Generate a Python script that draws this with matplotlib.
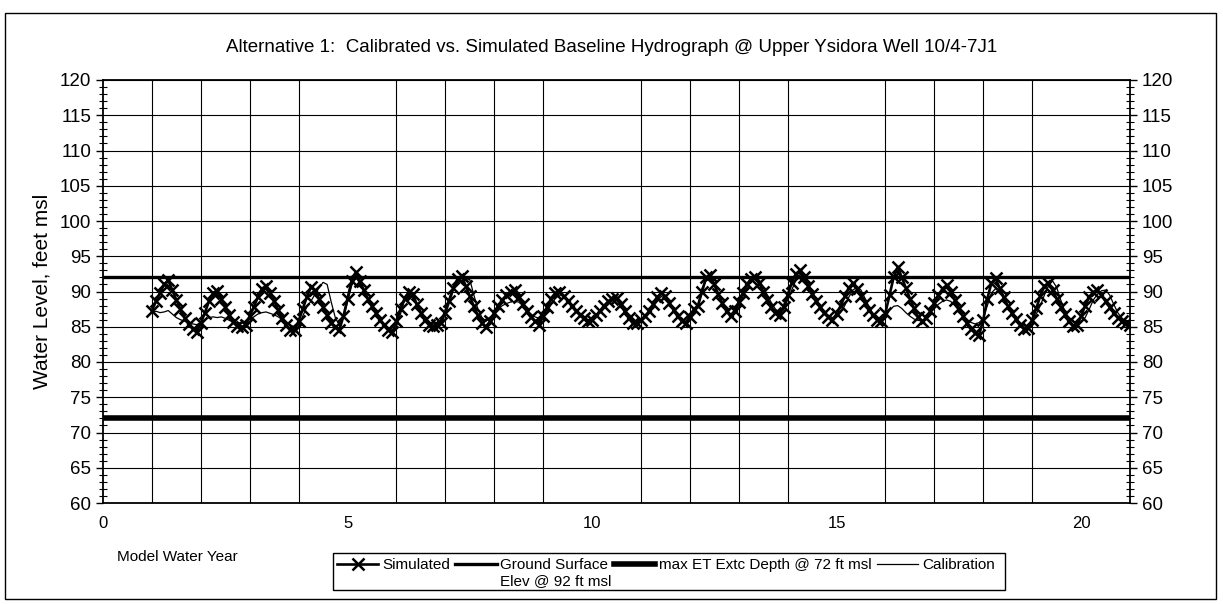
import matplotlib
matplotlib.use('Agg')
import matplotlib.pyplot as plt
import numpy as np
from matplotlib.patches import Rectangle

plt.rcParams['font.family'] = ['Liberation Sans', 'DejaVu Sans']

# ---- data (monthly, model years 1..21) ----
start_year = 1.0
steps_per_year = 12

simulated = [
    87.3, 88.6, 89.8, 91.0, 91.6, 90.2, 88.8, 87.5, 86.3, 85.4, 84.7, 84.2,   # yr 1
    85.5, 87.0, 88.6, 89.8, 90.1, 89.0, 87.8, 86.7, 85.7, 85.1, 84.9, 85.3,   # yr 2
    86.5, 87.8, 89.2, 90.4, 90.8, 89.8, 88.6, 87.4, 86.2, 85.2, 84.6, 84.5,   # yr 3
    85.8, 87.5, 89.2, 90.6, 90.2, 89.0, 87.8, 86.6, 85.6, 84.9, 84.6, 86.5,   # yr 4
    89.0, 91.5, 92.7, 91.5, 90.2, 89.0, 87.9, 86.9, 86.0, 85.2, 84.6, 84.2,   # yr 5
    85.8, 87.5, 89.0, 89.9, 89.6, 88.2, 87.0, 86.0, 85.3, 85.1, 85.2, 85.6,   # yr 6
    87.0, 88.7, 90.5, 91.8, 92.2, 90.8, 89.3, 87.9, 86.6, 85.5, 84.9, 85.8,   # yr 7
    87.0, 88.0, 88.8, 89.5, 90.0, 90.2, 89.2, 88.2, 87.2, 86.4, 85.8, 85.3,   # yr 8
    86.5, 87.8, 89.0, 89.8, 90.0, 89.4, 88.7, 88.0, 87.3, 86.7, 86.2, 85.8,   # yr 9
    86.0, 86.6, 87.3, 88.0, 88.6, 89.0, 89.1, 88.2, 87.2, 86.3, 85.5, 85.6,   # yr 10
    86.0, 86.5, 87.2, 88.2, 89.2, 89.8, 89.3, 88.4, 87.4, 86.5, 85.8, 85.6,   # yr 11
    86.4, 87.5, 88.0, 90.0, 92.0, 92.3, 91.0, 89.6, 88.3, 87.2, 86.5, 87.3,   # yr 12
    88.5, 89.8, 91.0, 91.8, 92.1, 91.2, 90.0, 88.8, 87.8, 87.0, 86.7, 87.8,   # yr 13
    89.5, 91.2, 92.5, 93.0, 92.0, 90.8, 89.7, 88.7, 87.8, 87.0, 86.4, 86.0,   # yr 14
    86.8, 88.0, 89.3, 90.5, 91.2, 90.4, 89.4, 88.4, 87.4, 86.6, 86.0, 85.8,   # yr 15
    87.0, 89.5, 92.0, 93.5, 92.0, 90.5, 89.0, 87.6, 86.4, 85.8, 86.2, 87.2,   # yr 16
    88.4, 89.5, 90.4, 90.9, 90.0, 88.8, 87.6, 86.5, 85.5, 84.7, 84.1, 83.9,   # yr 17
    86.0, 89.0, 91.2, 91.9, 90.5, 89.2, 88.0, 87.0, 86.1, 85.3, 84.7, 84.8,   # yr 18
    86.0, 87.6, 89.4, 90.8, 91.2, 90.2, 89.0, 87.8, 86.8, 85.8, 85.1, 85.3,   # yr 19
    86.5, 88.0, 89.2, 89.9, 90.2, 89.5, 88.6, 87.8, 87.0, 86.3, 85.8, 85.5,   # yr 20
    85.3,
]

calibration = [
    87.0, 87.2, 87.0, 87.1, 87.3, 86.8, 86.3, 86.0, 85.8, 85.6, 85.4, 85.3,   # yr 1
    85.5, 86.0, 86.3, 86.4, 86.3, 86.4, 86.2, 85.9, 85.7, 85.6, 85.5, 85.6,   # yr 2
    86.0, 86.4, 86.8, 87.0, 87.1, 86.9, 86.7, 86.4, 86.0, 85.6, 85.2, 85.0,   # yr 3
    85.2, 86.5, 87.8, 88.6, 89.6, 90.5, 91.3, 91.0, 88.5, 86.3, 85.2, 86.2,   # yr 4
    88.5, 90.8, 92.0, 91.2, 90.0, 88.8, 87.8, 86.9, 86.0, 85.3, 84.8, 84.5,   # yr 5
    85.0, 86.8, 88.8, 89.4, 89.2, 88.0, 87.0, 86.2, 85.6, 85.4, 85.5, 86.0,   # yr 6
    87.5, 89.2, 90.6, 91.2, 91.5, 91.6, 91.7, 89.5, 87.5, 86.3, 85.8, 86.2,   # yr 7
    87.0, 87.6, 88.0, 88.3, 88.5, 88.6, 88.5, 88.0, 87.4, 86.8, 86.4, 86.2,   # yr 8
    86.4, 87.2, 88.2, 89.0, 89.5, 89.4, 88.9, 88.2, 87.5, 86.9, 86.4, 86.0,   # yr 9
    86.0, 86.5, 87.1, 87.8, 88.3, 88.7, 88.8, 88.0, 87.1, 86.3, 85.8, 85.7,   # yr 10
    85.9, 86.3, 87.0, 87.8, 88.7, 89.3, 89.0, 88.2, 87.3, 86.5, 85.9, 85.7,   # yr 11
    86.2, 87.0, 88.2, 90.5, 91.5, 91.8, 90.8, 89.5, 88.3, 87.3, 86.8, 87.2,   # yr 12
    88.0, 89.2, 90.5, 91.4, 91.9, 91.6, 90.7, 89.5, 88.4, 87.5, 87.0, 87.4,   # yr 13
    88.8, 90.2, 91.6, 92.4, 92.0, 91.2, 90.0, 88.9, 87.9, 87.1, 86.6, 86.3,   # yr 14
    86.4, 87.0, 88.0, 89.2, 90.2, 90.6, 90.2, 89.0, 87.8, 86.8, 86.2, 86.0,   # yr 15
    86.4, 87.3, 87.9, 88.0, 87.6, 87.0, 86.5, 86.1, 85.9, 85.8, 86.2, 87.0,   # yr 16
    87.6, 88.2, 88.6, 88.8, 88.6, 88.0, 87.3, 86.6, 86.0, 85.6, 85.4, 85.6,   # yr 17
    86.2, 88.0, 89.8, 90.4, 90.0, 89.0, 88.0, 87.0, 86.2, 85.5, 85.1, 85.2,   # yr 18
    85.8, 86.8, 88.0, 89.5, 90.8, 91.5, 90.6, 88.8, 87.2, 86.2, 85.7, 85.6,   # yr 19
    85.8, 86.3, 87.5, 88.8, 89.6, 90.1, 90.2, 89.5, 88.2, 87.0, 86.2, 85.8,   # yr 20
    85.6,
]

ground_surface = 92.0
max_et_depth = 72.0

title = 'Alternative 1:  Calibrated vs. Simulated Baseline Hydrograph @ Upper Ysidora Well 10/4-7J1'
labels = ['Simulated', 'Ground Surface', 'max ET Extc Depth @ 72 ft msl', 'Calibration']
gs_line2 = 'Elev @ 92 ft msl'

sim_x = start_year + np.arange(len(simulated)) / steps_per_year
cal_x = start_year + np.arange(len(calibration)) / steps_per_year

# ---- figure ----
W, H = 1223, 604
fig = plt.figure(figsize=(W / 100, H / 100), dpi=100, facecolor='w')
ax = fig.add_axes([103 / W, 1 - 503 / H, 1027 / W, 423 / H])

gs, = ax.plot([0, 21], [ground_surface] * 2, color='k', lw=2.4, zorder=3)
et, = ax.plot([0, 21], [max_et_depth] * 2, color='k', lw=4.0, zorder=3)
cal, = ax.plot(cal_x, calibration, color='k', lw=0.9, zorder=4)
sim, = ax.plot(sim_x, simulated, color='k', lw=1.9, marker='x', ms=9, mew=1.8,
               zorder=5)

ax.set_xlim(0, 21)
ax.set_ylim(60, 120)
ax.set_xticks([0, 5, 10, 15, 20])
ax.set_xticks(np.arange(1, 21), minor=True)
ax.set_yticks(np.arange(60, 121, 5))
ax.set_yticks(np.arange(60, 121, 1), minor=True)

ax.grid(True, which='major', axis='y', color='k', lw=0.8)
ax.grid(True, which='minor', axis='x', color='k', lw=0.8)
ax.grid(False, which='major', axis='x')
ax.set_axisbelow(True)

ax.tick_params(axis='x', which='both', length=0, labelsize=12, pad=9)
ax.tick_params(axis='y', which='major', direction='out', length=5, width=1,
               labelsize=13.5, left=True, right=True, labelleft=True, labelright=True)
ax.tick_params(axis='y', which='minor', direction='inout', length=6, width=0.8,
               left=True, right=True)
for s in ax.spines.values():
    s.set_linewidth(1.3)

ax.set_ylabel('Water Level, feet msl', fontsize=15, labelpad=6)
fig.text(0.5, 1 - 47 / H, title, ha='center', va='center', fontsize=13.5)
fig.text(117 / W, 1 - 557 / H, 'Model Water Year', ha='left', va='center', fontsize=11)

# legend (no frame; frame drawn separately so the 2nd line of label fits)
leg = fig.legend([sim, gs, et, cal], labels, ncol=4, loc='center left',
                 bbox_to_anchor=(337 / W, 1 - 565 / H), frameon=False,
                 fontsize=11, handlelength=2.7, handletextpad=0.25,
                 columnspacing=0.35, borderpad=0, borderaxespad=0)
fig.canvas.draw()
tb = leg.get_texts()[1].get_window_extent()
fig.text(tb.x0 / W, (tb.y0 - 9) / H, gs_line2, ha='left', va='center', fontsize=11)

fig.patches.append(Rectangle((333 / W, 1 - 590 / H), 672 / W, 37 / H,
                             transform=fig.transFigure, fill=False,
                             edgecolor='k', lw=1.0))
fig.patches.append(Rectangle((5 / W, 5 / H), 1211 / W, 586 / H,
                             transform=fig.transFigure, fill=False,
                             edgecolor='k', lw=1.0))

fig.savefig('out.png', dpi=100, facecolor='w')
